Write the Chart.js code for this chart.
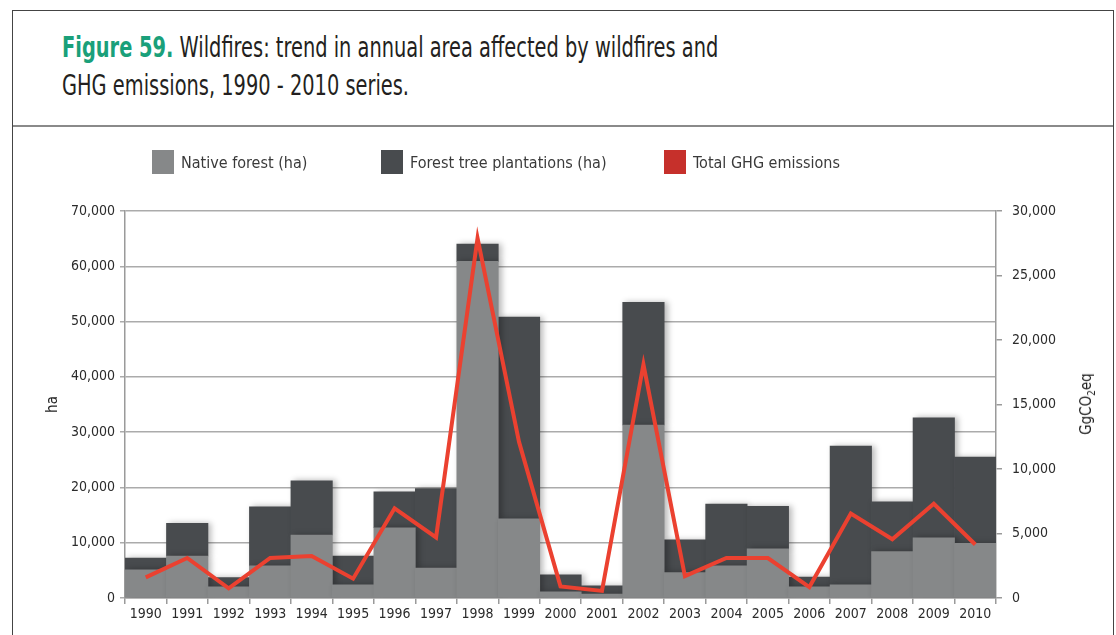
<!DOCTYPE html>
<html>
<head>
<meta charset="utf-8">
<script src="https://cdn.jsdelivr.net/npm/chart.js@4.4.1/dist/chart.umd.min.js"></script>
<style>
  body { margin: 0; background: #fff; font-family: "DejaVu Sans Condensed", "Liberation Sans Narrow", sans-serif; }
  #wrap { position: relative; width: 1116px; height: 635px; overflow: hidden; }
  #frame { position: absolute; left: 12px; top: 10px; width: 1100px; height: 700px; border: 1.5px solid #444; }
  #titlebar { position: absolute; left: 13px; top: 125px; width: 1100px; height: 0; border-top: 2px solid #8a8a8a; }
  #title { position: absolute; left: 62px; top: 29px; font-size: 28px; line-height: 38px; color: #231f20;
           transform: scaleX(0.77); transform-origin: 0 0; white-space: nowrap; }
  #title b { color: #1aa07a; }
  #legend { position: absolute; left: 152px; top: 150px; display: flex; font-size: 16px; color: #3a3a3a; }
  #legend .item { display: flex; align-items: center; height: 24px; }
  #legend .box { width: 22px; height: 24px; margin-right: 7px; }
  #rtitle { position: absolute; left: 1087px; top: 404px; transform: translate(-50%, -50%) rotate(-90deg); font-size: 15px; color: #222; white-space: nowrap; }
  #rtitle sub { font-size: 10px; }
  canvas { position: absolute; left: 0; top: 0; }
</style>
</head>
<body>
<div id="wrap">
  <div id="frame"></div>
  <div id="titlebar"></div>
  <div id="title"><b>Figure 59.</b> Wildfires: trend in annual area affected by wildfires and<br>GHG emissions, 1990 - 2010 series.</div>
  <canvas id="fireChart" width="1116" height="635"></canvas>
  <div id="legend"></div>
  <div id="rtitle">GgCO<sub>2</sub>eq</div>
</div>
<script>
// años y valores
var years = ['1990', '1991', '1992', '1993', '1994', '1995', '1996', '1997', '1998', '1999', '2000',
             '2001', '2002', '2003', '2004', '2005', '2006', '2007', '2008', '2009', '2010'];
var nativeForest = [5100, 7600, 2000, 5800, 11400, 2400, 12700, 5400, 60900, 14300, 1100,
                    700, 31300, 4600, 5800, 8900, 2000, 2400, 8400, 10900, 9900];
var plantations = [2100, 5900, 1700, 10700, 9800, 5200, 6500, 14400, 3100, 36500, 3100,
                   1500, 22200, 5900, 11200, 7700, 1800, 25100, 9000, 21700, 15600];
var ghgEmissions = [1600, 3100, 750, 3100, 3250, 1500, 6950, 4700, 27900, 12100, 900,
                    550, 18100, 1700, 3100, 3100, 850, 6550, 4550, 7300, 4150];
var legendWidths = [229, 283, null];

var tickFont = { family: '"DejaVu Sans Condensed", "Liberation Sans Narrow", sans-serif', size: 14 };
var fmt = function (v) { return Number(v).toLocaleString('en-US'); };

// leyenda en HTML, generada desde los datasets
var htmlLegend = {
    id: 'htmlLegend',
    afterUpdate: function (chart) {
        var box = document.getElementById('legend');
        box.innerHTML = '';
        var items = chart.options.plugins.legend.labels.generateLabels(chart);
        items.sort(function (a, b) { return a.datasetIndex - b.datasetIndex; });
        items.forEach(function (it, i) {
            var d = document.createElement('div');
            d.className = 'item';
            if (legendWidths[i]) d.style.width = legendWidths[i] + 'px';
            var sw = document.createElement('span');
            sw.className = 'box';
            sw.style.background = it.fillStyle;
            var t = document.createElement('span');
            t.textContent = it.text;
            d.appendChild(sw);
            d.appendChild(t);
            box.appendChild(d);
        });
    }
};

// sombra suave a la derecha de las barras
var barShadow = {
    id: 'barShadow',
    beforeDatasetDraw: function (chart, args) {
        if (args.meta.type !== 'bar') return;
        var c = chart.ctx;
        c.save();
        c.shadowColor = 'rgba(0,0,0,0.28)';
        c.shadowBlur = 6;
        c.shadowOffsetX = 3;
    },
    afterDatasetDraw: function (chart, args) {
        if (args.meta.type !== 'bar') return;
        chart.ctx.restore();
    }
};

var ctx = document.getElementById('fireChart').getContext('2d');
var myChart = new Chart(ctx, {
    type: 'bar',
    data: {
        labels: years,
        datasets: [
            {
                label: 'Native forest (ha)',
                data: nativeForest,
                backgroundColor: '#868889',
                stack: 'ha',
                order: 1
            },
            {
                label: 'Forest tree plantations (ha)',
                data: plantations,
                backgroundColor: '#484b4e',
                stack: 'ha',
                order: 1
            },
            {
                type: 'line',
                label: 'Total GHG emissions',
                data: ghgEmissions,
                yAxisID: 'y1',
                borderColor: '#eb4130',
                backgroundColor: '#c6302b',
                borderWidth: 4,
                pointRadius: 0,
                tension: 0,
                order: 0
            }
        ]
    },
    options: {
        responsive: false,
        animation: false,
        barPercentage: 1,
        categoryPercentage: 1,
        layout: { padding: { left: 14, right: 5, top: 211, bottom: 0 } },
        plugins: {
            legend: { display: false },
            tooltip: { enabled: false }
        },
        scales: {
            x: {
                stacked: true,
                grid: { display: true, drawOnChartArea: false, offset: true, color: '#9a9a9a', tickLength: 6, lineWidth: 1.5 },
                border: { color: '#9a9a9a', width: 1.5 },
                ticks: { font: tickFont, color: '#2b2b2b', padding: 2, maxRotation: 0, autoSkip: false },
                afterFit: function (s) { s.height = 37; }
            },
            y: {
                stacked: true,
                min: 0,
                max: 70000,
                z: 1,
                grid: { color: '#ababab', lineWidth: 1.5, tickLength: 5 },
                border: { color: '#9a9a9a', width: 1.5 },
                ticks: { stepSize: 10000, font: tickFont, color: '#2b2b2b', padding: 5, callback: fmt },
                title: { display: true, text: 'ha', font: { family: tickFont.family, size: 15 }, color: '#222', padding: { top: 30, bottom: 0 } },
                afterFit: function (s) { s.width = 111; }
            },
            y1: {
                position: 'right',
                min: 0,
                max: 30000,
                grid: { drawOnChartArea: false, color: '#9a9a9a', tickLength: 6, lineWidth: 1.5 },
                border: { color: '#9a9a9a', width: 1.5 },
                ticks: { stepSize: 5000, font: tickFont, color: '#2b2b2b', padding: 10, callback: fmt },
                afterFit: function (s) { s.width = 115; }
            }
        }
    },
    plugins: [htmlLegend, barShadow]
});
</script>
</body>
</html>
